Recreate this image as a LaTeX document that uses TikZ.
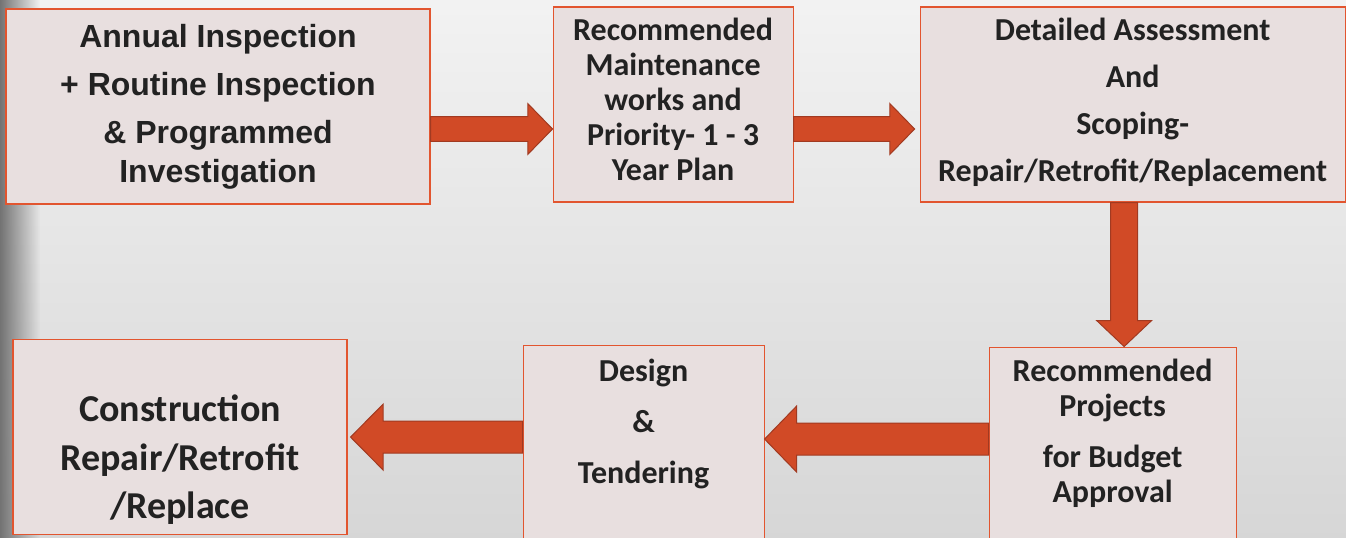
\documentclass[tikz,border=0pt]{standalone}
\usepackage{fontspec}
\setmainfont{Carlito}
\newfontfamily\arialfont{Liberation Sans}
\usepackage{xcolor}
\usetikzlibrary{positioning,calc,fadings}
\definecolor{boxfill}{HTML}{E8DFDF}
\definecolor{boxline}{HTML}{E2552F}
\definecolor{arrfill}{HTML}{D14A26}
\definecolor{arrline}{HTML}{A13A21}
\definecolor{ink}{HTML}{222222}

\begin{document}
\begin{tikzpicture}[
  box/.style={draw=boxline,fill=boxfill,line width=0.8pt,inner sep=0pt,minimum height=146.25pt},
  txt/.style={align=center,inner sep=0pt,text=ink},
  blk/.style n args={3}{draw=arrline,fill=arrfill,line width=0.75pt,line join=miter,
    to path={($(\tikztostart)!#1!90:(\tikztotarget)$)
      -- ($(\tikztotarget)!#3!(\tikztostart)!#1!-90:(\tikztostart)$)
      -- ($(\tikztotarget)!#3!(\tikztostart)!#2!-90:(\tikztostart)$)
      -- (\tikztotarget)
      -- ($(\tikztotarget)!#3!(\tikztostart)!#2!90:(\tikztostart)$)
      -- ($(\tikztotarget)!#3!(\tikztostart)!#1!90:(\tikztostart)$)
      -- ($(\tikztostart)!#1!-90:(\tikztotarget)$) -- cycle}}
]
\useasboundingbox (0,0) rectangle (1009.5pt,-403.5pt);
\clip (0,0) rectangle (1009.5pt,-403.5pt);
% backdrop
\fill[top color=black!5,bottom color=black!16] (0,0) rectangle (1009.5pt,-403.5pt);
\fill[black!55,path fading=east] (0,0) rectangle (30pt,-403.5pt);

% boxes
\node[box,minimum width=318pt] (insp) at (163.5pt,-79.875pt) {};
\node[box,minimum width=180pt,right=91.5pt of insp,yshift=1.5pt] (maint) {};
\node[box,minimum width=318.75pt,right=94.5pt of maint] (assess) {};
\node[box,minimum width=185.25pt,minimum height=150pt,below=108pt of assess,xshift=-15pt] (proj) {};
\node[box,minimum width=180.75pt,minimum height=150pt,left=168pt of proj,yshift=1.5pt] (design) {};
\node[box,minimum width=250.5pt,left=131.25pt of design,yshift=6.375pt] (constr) {};

% texts
\node[txt,font={\arialfont\bfseries\fontsize{24}{36}\selectfont},below=12pt of insp.north] (insp-txt)
  {Annual Inspection\\+ Routine Inspection\\\& Programmed\\[-6.75pt]Investigation};
\node[txt,font={\bfseries\fontsize{24}{26.25}\selectfont},below=8.25pt of maint.north] (maint-txt)
  {Recommended\\Maintenance\\works and\\Priority- 1 - 3\\Year Plan};
\node[txt,font={\bfseries\fontsize{24}{35.25}\selectfont},below=8.25pt of assess.north] (assess-txt)
  {Detailed Assessment\\And\\Scoping-\\Repair/Retrofit/Replacement};
\node[txt,font={\bfseries\fontsize{24}{26.25}\selectfont},below=9pt of proj.north] (proj-txt)
  {Recommended\\Projects\\[12pt]for Budget\\Approval};
\node[txt,font={\bfseries\fontsize{24}{38.25}\selectfont},below=10.5pt of design.north] (design-txt)
  {Design\\\&\\Tendering};
\node[txt,font={\bfseries\fontsize{28.5}{36.5}\selectfont},below=42pt of constr.north] (constr-txt)
  {Construction\\Repair/Retrofit\\/Replace};

% block arrows
\coordinate (a1) at ([yshift=-16.875pt]insp.east);
\coordinate (a2) at (a1 -| maint.west);
\coordinate (b1) at ([yshift=-18.375pt]maint.east);
\coordinate (b2) at ([xshift=-3.75pt]b1 -| assess.west);
\coordinate (c1) at ([xshift=-6.375pt]assess.south);
\coordinate (c2) at (c1 |- proj.north);
\coordinate (d1) at ([yshift=6pt]proj.west);
\coordinate (d2) at (d1 -| design.east);
\coordinate (e1) at ([yshift=6pt]design.west);
\coordinate (e2) at ([xshift=2.25pt]e1 -| constr.east);
\draw[blk={9.2pt}{19pt}{18.5pt}] (a1) to (a2);
\draw[blk={9.2pt}{19pt}{18.5pt}] (b1) to (b2);
\draw[blk={10.1pt}{20.6pt}{19.5pt}] (c1) to (c2);
\draw[blk={12pt}{24.75pt}{24pt}] (d1) to (d2);
\draw[blk={12pt}{24.75pt}{24.5pt}] (e1) to (e2);
\end{tikzpicture}
\end{document}
